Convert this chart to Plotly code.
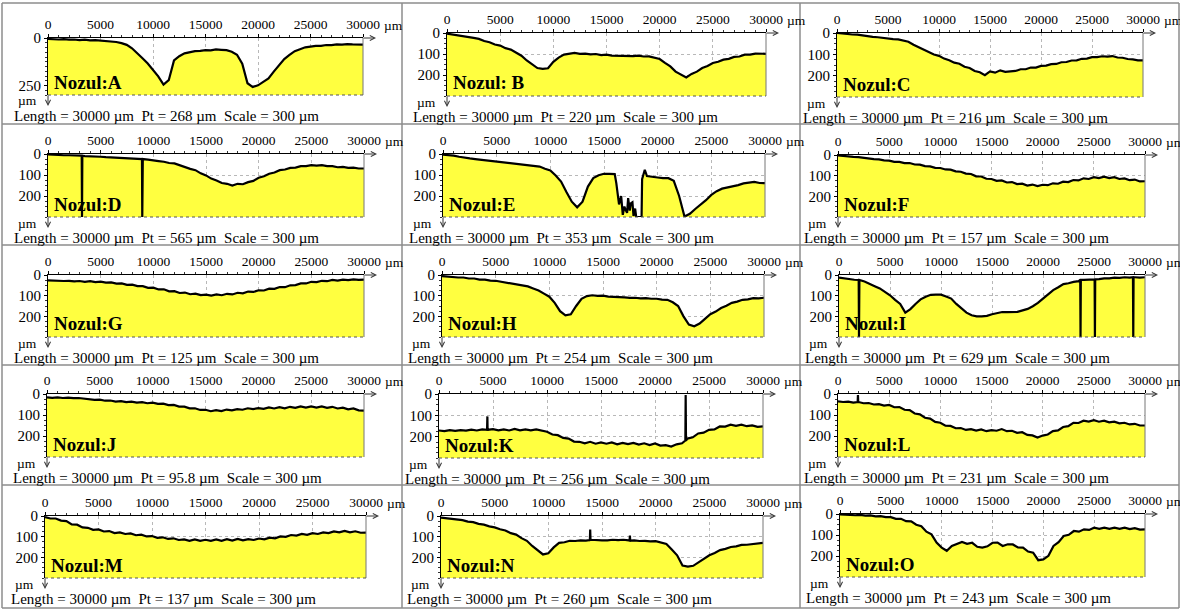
import plotly.graph_objects as go

# ---------------- data ----------------
X_UM = list(range(0, 30001, 500))          # profile positions (µm)
X_TICKS = [0, 5000, 10000, 15000, 20000, 25000, 30000]
X_TICK_TEXT = ["0", "5000", "10000", "15000", "20000", "25000", "30000"]
Y_TICKS = [0, 100, 200]
Y_TICKS_A = [0, 250]
SCALE_UM = 300
LENGTH_UM = 30000

NAMES = ["A", "B", "C", "D", "E", "F", "G", "H", "I", "J", "K", "L", "M", "N", "O"]
LABELS = ["Nozul:A", "Nozul: B", "Nozul:C", "Nozul:D", "Nozul:E", "Nozul:F", "Nozul:G",
          "Nozul:H", "Nozul:I", "Nozul:J", "Nozul:K", "Nozul:L", "Nozul:M", "Nozul:N", "Nozul:O"]
PT_UM = ["268", "220", "216", "565", "353", "157", "125", "254", "629", "95.8",
         "256", "231", "137", "260", "243"]

DEPTH_A = [5, 7, 8, 6, 9, 8, 11, 9, 12, 11,
           13, 15, 19, 21, 27, 36, 54, 78, 107, 134,
           169, 202, 245, 222, 118, 96, 81, 75, 69, 68,
           64, 65, 60, 62, 64, 72, 88, 135, 238, 258,
           249, 231, 213, 177, 143, 111, 89, 69, 59, 49,
           45, 41, 41, 37, 37, 34, 35, 32, 34, 33,
           35]
DEPTH_B = [3, 7, 9, 14, 16, 23, 28, 38, 44, 55,
           60, 72, 79, 95, 108, 131, 151, 167, 171, 168,
           137, 117, 103, 100, 95, 99, 98, 102, 100, 105,
           103, 108, 109, 110, 108, 110, 108, 112, 111, 118,
           124, 142, 159, 184, 199, 212, 195, 184, 167, 157,
           143, 137, 127, 123, 114, 112, 103, 103, 98, 100,
           99]
DEPTH_C = [0, 3, 4, 7, 8, 12, 14, 18, 20, 24,
           25, 29, 30, 36, 41, 55, 66, 80, 90, 101,
           107, 120, 128, 139, 144, 158, 164, 178, 184, 198,
           180, 186, 175, 182, 180, 178, 170, 170, 162, 162,
           154, 153, 146, 145, 137, 136, 129, 128, 121, 120,
           113, 113, 109, 111, 108, 115, 116, 122, 124, 128,
           128]
DEPTH_D = [2, 4, 4, 6, 6, 8, 8, 10, 10, 12,
           13, 15, 16, 18, 18, 20, 21, 23, 24, 27,
           29, 34, 37, 43, 45, 54, 61, 71, 77, 92,
           102, 117, 126, 138, 142, 150, 142, 144, 134, 128,
           113, 106, 94, 88, 77, 74, 66, 65, 58, 58,
           53, 55, 53, 58, 58, 63, 61, 66, 65, 69,
           69]
DEPTH_E = [3, 5, 8, 13, 18, 21, 24, 27, 30, 33,
           35, 39, 40, 44, 45, 49, 51, 57, 60, 70,
           78, 102, 131, 181, 227, 254, 227, 155, 115, 101,
           94, 95, 96, 220, 265, 235, 300, 300, 105, 110,
           112, 115, 115, 128, 200, 298, 285, 262, 243, 220,
           195, 177, 165, 160, 152, 148, 140, 138, 133, 138,
           139]
DEPTH_F = [2, 5, 6, 9, 10, 14, 15, 20, 21, 26,
           27, 33, 33, 39, 39, 46, 47, 54, 55, 62,
           63, 70, 71, 79, 81, 90, 92, 103, 104, 115,
           116, 125, 123, 133, 131, 141, 139, 148, 143, 150,
           144, 146, 137, 139, 129, 131, 121, 123, 113, 116,
           107, 112, 105, 112, 107, 116, 113, 122, 119, 128,
           127]
DEPTH_G = [26, 28, 27, 29, 28, 31, 29, 33, 30, 34,
           32, 37, 36, 42, 41, 48, 47, 54, 54, 62,
           61, 70, 69, 79, 78, 87, 85, 93, 90, 97,
           95, 100, 94, 98, 91, 94, 86, 89, 80, 82,
           74, 75, 66, 67, 58, 59, 50, 49, 41, 41,
           33, 34, 28, 30, 24, 27, 22, 25, 21, 24,
           22]
DEPTH_H = [5, 8, 9, 12, 12, 17, 17, 22, 22, 27,
           28, 33, 35, 42, 45, 52, 55, 65, 75, 90,
           105, 135, 175, 195, 190, 150, 115, 102, 98, 101,
           100, 105, 105, 108, 108, 111, 110, 113, 112, 115,
           115, 119, 120, 132, 150, 200, 240, 248, 235, 212,
           190, 177, 160, 149, 135, 129, 120, 118, 112, 113,
           110]
DEPTH_I = [13, 17, 20, 23, 24, 31, 41, 54, 65, 82,
           98, 120, 140, 182, 165, 140, 118, 105, 96, 95,
           95, 104, 114, 140, 163, 182, 195, 200, 200, 198,
           190, 186, 179, 180, 179, 178, 171, 164, 151, 135,
           114, 94, 73, 59, 44, 40, 33, 30, 24, 24,
           21, 20, 16, 16, 13, 14, 11, 13, 11, 13,
           11]
DEPTH_J = [16, 18, 16, 19, 17, 20, 19, 23, 24, 28,
           27, 32, 31, 36, 34, 39, 36, 41, 39, 44,
           41, 47, 46, 53, 52, 60, 60, 68, 68, 76,
           75, 82, 77, 81, 74, 78, 72, 75, 68, 72,
           67, 71, 64, 69, 63, 68, 61, 66, 59, 65,
           59, 65, 59, 66, 61, 69, 65, 73, 69, 78,
           79]
DEPTH_K = [171, 174, 169, 173, 169, 172, 167, 171, 166, 170,
           165, 170, 166, 171, 164, 170, 166, 170, 166, 173,
           177, 190, 193, 206, 209, 223, 224, 231, 224, 233,
           227, 233, 227, 236, 229, 235, 229, 237, 231, 239,
           232, 242, 240, 246, 236, 231, 209, 203, 185, 181,
           168, 166, 152, 153, 144, 149, 144, 151, 147, 154,
           152]
DEPTH_L = [35, 38, 36, 41, 38, 44, 43, 50, 48, 55,
           52, 63, 62, 75, 77, 93, 97, 113, 117, 133,
           137, 151, 152, 163, 162, 171, 167, 174, 169, 177,
           172, 175, 167, 177, 175, 185, 182, 195, 197, 207,
           198, 193, 177, 173, 157, 153, 137, 138, 127, 131,
           125, 132, 127, 135, 132, 140, 137, 145, 142, 150,
           150]
DEPTH_M = [5, 12, 12, 22, 25, 41, 42, 55, 57, 67,
           65, 75, 73, 83, 79, 87, 84, 93, 90, 99,
           97, 106, 103, 111, 108, 116, 113, 120, 113, 120,
           115, 120, 113, 120, 112, 119, 111, 118, 112, 116,
           109, 113, 105, 108, 99, 101, 92, 95, 87, 91,
           83, 87, 79, 83, 75, 79, 72, 79, 74, 81,
           80]
DEPTH_N = [8, 11, 12, 17, 20, 27, 30, 38, 42, 50,
           55, 64, 70, 83, 90, 107, 120, 145, 165, 186,
           180, 152, 130, 127, 120, 121, 118, 119, 115, 118,
           118, 118, 115, 117, 115, 118, 118, 121, 120, 123,
           122, 130, 135, 162, 190, 240, 245, 241, 225, 207,
           190, 179, 165, 159, 150, 147, 140, 139, 135, 134,
           130]
DEPTH_O = [2, 4, 3, 6, 4, 8, 7, 11, 10, 15,
           15, 23, 23, 34, 35, 51, 58, 84, 97, 136,
           160, 175, 152, 144, 133, 142, 137, 156, 160, 154,
           137, 136, 152, 144, 145, 159, 160, 179, 184, 220,
           216, 199, 152, 134, 105, 99, 81, 84, 73, 76,
           65, 71, 65, 71, 65, 71, 65, 72, 67, 74,
           73]

# extra profile points (spikes, jagged zones)
EXTRA_X_D = [3200, 3230, 3260, 8920, 8950, 8980]
EXTRA_D_D = [8, 300, 8, 24, 300, 24]
EXTRA_X_E = [16150, 16250, 16400, 16600, 16750, 16900, 17150, 17250, 17400, 17650, 17750, 17900,
             18550, 18800]
EXTRA_D_E = [140, 190, 240, 200, 290, 250, 280, 210, 270, 230, 295, 260,
             120, 75]
EXTRA_X_I = [1930, 1960, 1990, 23650, 23680, 23710, 25060, 25090, 25120, 28820, 28850, 28880]
EXTRA_D_I = [24, 300, 24, 24, 300, 24, 21, 300, 21, 11, 300, 11]
EXTRA_X_K = [4450, 4480, 4510, 22810, 22840, 22870]
EXTRA_D_K = [168, 105, 168, 218, 5, 218]
EXTRA_X_L = [1920, 1950, 1980]
EXTRA_D_L = [38, 5, 38]
EXTRA_X_N = [13870, 13900, 13930, 17570, 17600, 17630]
EXTRA_D_N = [116, 65, 116, 119, 95, 119]

DEPTHS = [DEPTH_A, DEPTH_B, DEPTH_C, DEPTH_D, DEPTH_E, DEPTH_F, DEPTH_G, DEPTH_H,
          DEPTH_I, DEPTH_J, DEPTH_K, DEPTH_L, DEPTH_M, DEPTH_N, DEPTH_O]
EXTRAS = {"D": (EXTRA_X_D, EXTRA_D_D), "E": (EXTRA_X_E, EXTRA_D_E), "I": (EXTRA_X_I, EXTRA_D_I),
          "K": (EXTRA_X_K, EXTRA_D_K), "L": (EXTRA_X_L, EXTRA_D_L), "N": (EXTRA_X_N, EXTRA_D_N)}

# ---------------- layout (pixel boxes: left(0 µm), right(30000 µm), top(0 µm), bottom(300 µm)) ----
W, H = 1180, 610
BOXES = [
    (48, 363, 38, 95), (447, 766, 33, 96), (837, 1143, 33, 97),
    (48, 364, 154, 217), (443, 765, 154, 217), (838, 1145, 155, 217),
    (48, 364, 275, 337), (442, 764, 275, 337), (839, 1145, 275, 337),
    (47, 364, 394, 457), (439, 763, 394, 458), (838, 1145, 394, 457),
    (45, 366, 516, 578), (441, 763, 516, 578), (840, 1145, 514, 577),
]
SERIF = "Liberation Serif, Times New Roman, serif"
YELLOW = "#FFFF40"
SP = "\u00a0"

fig = go.Figure()
annotations = []
shapes = []


def px(x):
    return x / W


def py(y):
    return 1 - y / H


for k, (name, label, pt, depth, box) in enumerate(zip(NAMES, LABELS, PT_UM, DEPTHS, BOXES), start=1):
    L, R, T, B = box
    pts = list(zip(X_UM, depth))
    if name in EXTRAS:
        ex, ed = EXTRAS[name]
        pts += list(zip(ex, ed))
    pts.sort(key=lambda p: p[0])
    xs = [p[0] for p in pts]
    ds = [min(p[1], SCALE_UM) for p in pts]
    xa = "x" if k == 1 else f"x{k}"
    ya = "y" if k == 1 else f"y{k}"
    fig.add_trace(go.Scatter(x=xs + [LENGTH_UM, 0], y=ds + [SCALE_UM, SCALE_UM], fill="toself",
                             fillcolor=YELLOW, mode="none", xaxis=xa, yaxis=ya,
                             showlegend=False, hoverinfo="skip"))
    fig.add_trace(go.Scatter(x=xs, y=ds, mode="lines", line=dict(color="black", width=2.2),
                             xaxis=xa, yaxis=ya, showlegend=False, hoverinfo="skip"))
    ax_key = "xaxis" if k == 1 else f"xaxis{k}"
    ay_key = "yaxis" if k == 1 else f"yaxis{k}"
    fig.layout[ax_key] = dict(
        domain=[px(L), px(R)], anchor=ya, side="top", range=[0, LENGTH_UM], autorange=False,
        automargin=False,
        tickmode="array", tickvals=X_TICKS, ticktext=X_TICK_TEXT,
        showgrid=True, gridcolor="#b8b8b8", griddash="dot", gridwidth=1,
        showline=True, linecolor="black", linewidth=1, ticks="outside", ticklen=3,
        tickcolor="black", minor=dict(dtick=1000, ticklen=2, ticks="outside", tickcolor="#333",
                                      showgrid=False),
        tickfont=dict(family=SERIF, size=13.5, color="black"), zeroline=False, fixedrange=True)
    fig.layout[ay_key] = dict(
        domain=[py(B), py(T)], anchor=xa, range=[SCALE_UM, 0], autorange=False,
        automargin=False,
        tickmode="array", tickvals=(Y_TICKS_A if name == "A" else Y_TICKS),
        showgrid=True, gridcolor="#b8b8b8", griddash="dot", gridwidth=1,
        showline=True, linecolor="black", linewidth=1, ticks="outside", ticklen=3,
        tickcolor="black", minor=dict(dtick=25, ticklen=2, ticks="outside", tickcolor="#333",
                                      showgrid=False),
        tickfont=dict(family=SERIF, size=15, color="black"), zeroline=False, fixedrange=True)
    shapes.append(dict(type="line", xref="paper", yref="paper", x0=px(R), x1=px(R), y0=py(T), y1=py(B),
                       line=dict(color="#777", width=1)))
    shapes.append(dict(type="line", xref="paper", yref="paper", x0=px(L), x1=px(R), y0=py(B), y1=py(B),
                       line=dict(color="#555", width=1, dash="dot")))
    annotations.append(dict(x=px(R + 13), y=py(T), xref="paper", yref="paper", ax=-14, ay=0,
                            text="", showarrow=True, arrowhead=5, arrowsize=1, arrowwidth=1,
                            arrowcolor="#333"))
    annotations.append(dict(x=px(L), y=py(B + 11), xref="paper", yref="paper", ax=0, ay=-12,
                            text="", showarrow=True, arrowhead=5, arrowsize=1, arrowwidth=1,
                            arrowcolor="#333"))
    annotations.append(dict(x=px(R + 19), y=py(T - 13), xref="paper", yref="paper", text="µm",
                            showarrow=False, xanchor="left", yanchor="middle",
                            font=dict(family=SERIF, size=13.5, color="black")))
    annotations.append(dict(x=px(L - 9), y=py(B + 6), xref="paper", yref="paper", text="µm",
                            showarrow=False, xanchor="right", yanchor="middle",
                            font=dict(family=SERIF, size=13.5, color="black")))
    annotations.append(dict(x=px(L - 36), y=py(B + 21), xref="paper", yref="paper",
                            text=(f"Length = {LENGTH_UM} µm{SP}{SP}Pt = {pt} µm{SP}{SP}"
                                  f"Scale = {SCALE_UM} µm"),
                            showarrow=False, xanchor="left", yanchor="middle",
                            font=dict(family=SERIF, size=15, color="black")))
    annotations.append(dict(x=px(L + 4), y=py(B - 13), xref="paper", yref="paper",
                            text=f"<b>{label}</b>", showarrow=False, xanchor="left",
                            yanchor="middle", font=dict(family=SERIF, size=19, color="black")))

COL_EDGES = [2, 402, 800, 1179]
ROW_EDGES = [3, 124, 245, 365, 485, 608]
for xe in COL_EDGES:
    shapes.append(dict(type="line", xref="paper", yref="paper", x0=px(xe), x1=px(xe),
                       y0=py(ROW_EDGES[0]), y1=py(ROW_EDGES[-1]), line=dict(color="#8c8c8c", width=1.5)))
for ye in ROW_EDGES:
    shapes.append(dict(type="line", xref="paper", yref="paper", x0=px(COL_EDGES[0]), x1=px(COL_EDGES[-1]),
                       y0=py(ye), y1=py(ye), line=dict(color="#8c8c8c", width=1.5)))

fig.update_layout(width=W, height=H, autosize=False, margin=dict(l=0, r=0, t=0, b=0, pad=0),
                  paper_bgcolor="white", plot_bgcolor="white", annotations=annotations,
                  shapes=shapes, showlegend=False)
fig.write_html("out.html", config={"displayModeBar": False, "staticPlot": True},
               post_script="document.body.style.margin='0px';")
